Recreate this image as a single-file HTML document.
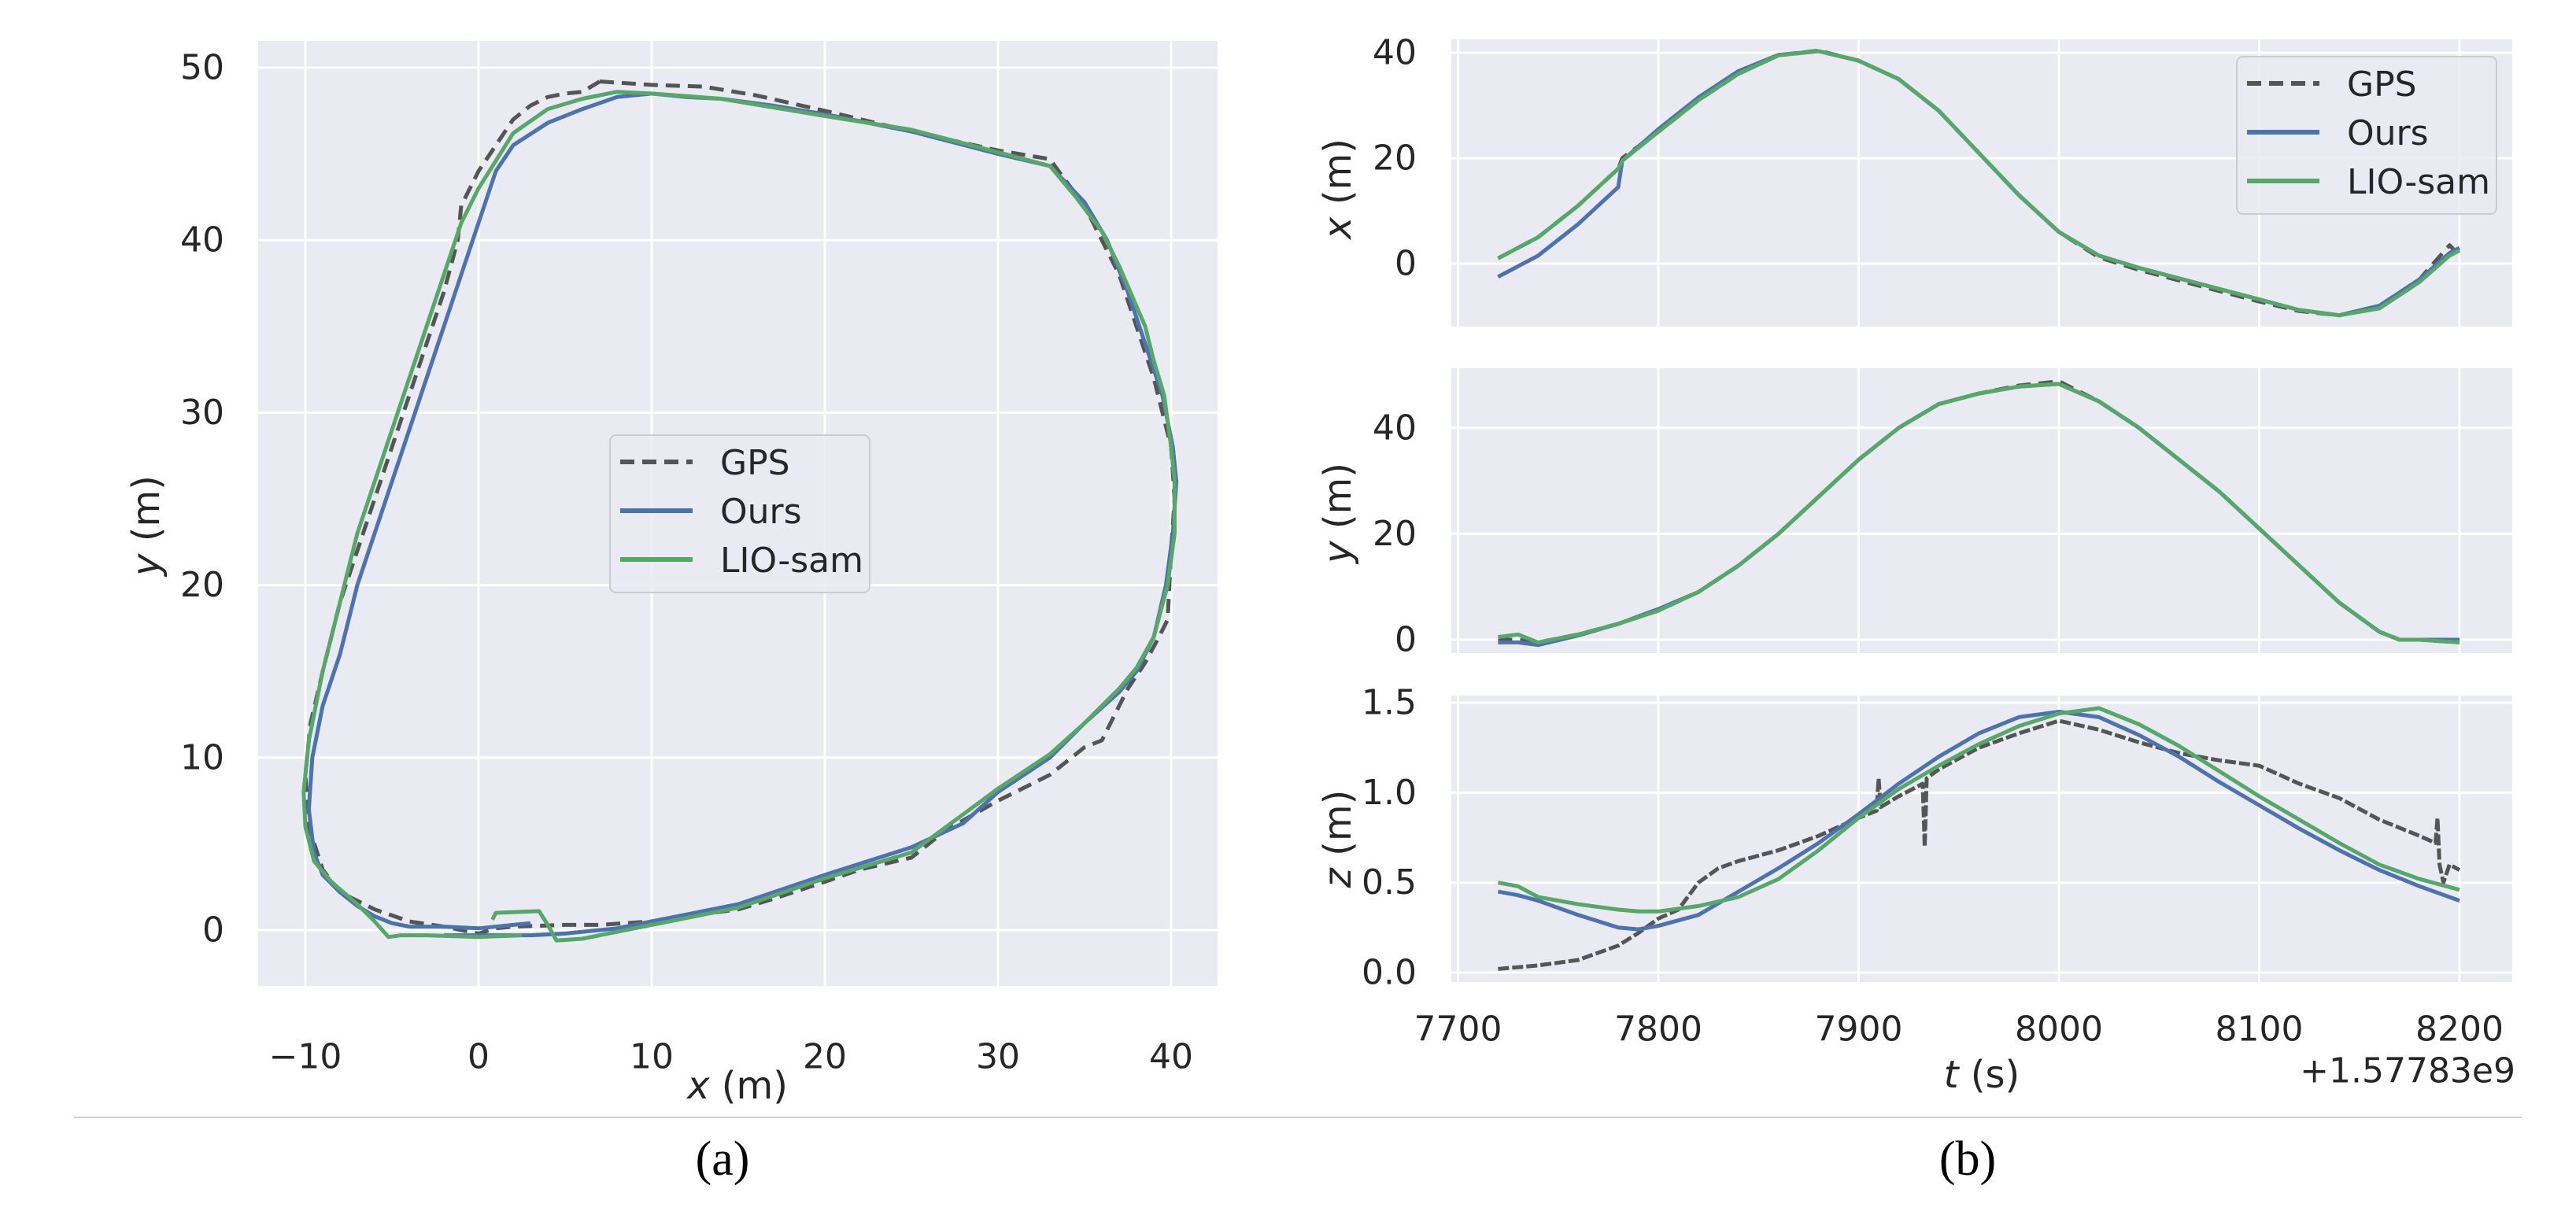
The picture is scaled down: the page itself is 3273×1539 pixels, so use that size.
<!DOCTYPE html>
<html><head><meta charset="utf-8">
<style>
html,body{margin:0;padding:0;background:#fff;}
svg{display:block;}
text{font-family:"DejaVu Sans","Liberation Sans",sans-serif;fill:#262626;}
.cap{font-family:"Liberation Serif",serif;fill:#000;}
</style></head>
<body>
<svg id="fig" width="3273" height="1539" viewBox="0 0 3273 1539" xmlns="http://www.w3.org/2000/svg">
<g id="panelA"></g>
<g id="panelB"></g>
<line x1="94" y1="1420" x2="3204" y2="1420" stroke="#d0d0d0" stroke-width="2"/>
<text class="cap" x="918" y="1493" font-size="62" text-anchor="middle">(a)</text>
<text class="cap" x="2500" y="1493" font-size="62" text-anchor="middle">(b)</text>
</svg>
<script>
// ---------- Panel (a) data: trajectory x/y (m) ----------
const gpsX = [7,10,13,16,20,25,30,33,33.5,35,36,37,38,39,39.5,40,40.2,40,39.8,39.3,38.5,37.5,36,35,33,30,27,25,22,20,17,15,12,10,7,5,2,1,0,-2,-4,-6,-8,-9,-9.8,-10,-9.7,-9,-8,-7,-6,-5,-4,-3,-2,-1.2,-1,0,1,2,3,4,5,6,7];
const gpsY = [49.2,49,48.9,48.4,47.5,46.3,45.2,44.7,44,42,40,38,35,32,30,28,25,22,18,17,15.5,14,11,10.6,9,7.5,5.8,4.2,3.5,2.8,1.8,1.2,0.8,0.5,0.3,0.3,0.2,0.1,-0.2,0.2,0.5,1.2,2.2,3.5,6,9,12,15,19,22,25,28,31,34,37,40,42,44,45.5,47,47.8,48.3,48.5,48.6,49.2];
const oursX = [-2,0,3,5,8,10,15,20,25,28,30,33,35,37,38,39,39.7,40.1,40.3,40.1,39.5,38.5,37.5,36.3,35,33,30,25,20,17,14,12,10,8,6,4,2,1,0,-1,-2,-3,-4,-5,-6,-7,-8,-9,-9.6,-9.8,-9.5,-9,-8,-7,-6,-5,-4,-2,0,2,3];
const oursY = [-0.3,-0.3,-0.3,-0.2,0.1,0.5,1.5,3.2,4.8,6.2,8,10,12,13.8,15,17,20,23,26,28,31,34,37,40,42.2,44.3,45,46.3,47.3,47.8,48.2,48.3,48.5,48.3,47.6,46.8,45.5,44,41,38,35,32,29,26,23,20,16,13,10,7,4.5,3.2,2.2,1.4,0.8,0.4,0.2,0.2,0.1,0.3,0.4];
const lioX = [0.8,1,3.5,4,4.5,6,10,15,20,25,30,33,35,37,38,39,39.8,40.2,40.2,40,39.6,39,38.5,37,36,34.5,33,30,25,20,14,10,8,6,4,2,0,-1,-2,-3,-4,-5,-6,-7,-8,-9,-9.8,-10.1,-10,-9.5,-8.5,-7,-6,-5.2,-4.5,-3,0,2.5];
const lioY = [0.6,1,1.1,0.3,-0.6,-0.5,0.3,1.3,3,4.5,8.2,10.2,12,14,15.2,17,20,23,26,28,31,33,35,38.5,40.5,42.5,44.3,45.1,46.4,47.2,48.2,48.5,48.6,48.2,47.6,46.2,43,41,38,35,32,29,26,23,19,15,11,8,6,4,2.8,1.5,0.5,-0.4,-0.3,-0.3,-0.4,-0.3];
const aXTicks = [-10,0,10,20,30,40];
const aXTickLabels = ["\u221210","0","10","20","30","40"];
const aYTicks = [0,10,20,30,40,50];
const aYTickLabels = ["0","10","20","30","40","50"];

// ---------- Panel (b) data ----------
const tTicks = [7700,7800,7900,8000,8100,8200];
const tTickLabels = ["7700","7800","7900","8000","8100","8200"];
const xPlotTicks = [0,20,40];
const yPlotTicks = [0,20,40];
const zPlotTicks = [0,0.5,1.0,1.5];
const zPlotTickLabels = ["0.0","0.5","1.0","1.5"];

const tX = [7720,7740,7760,7780,7782,7800,7820,7840,7860,7880,7900,7920,7940,7960,7980,8000,8020,8040,8060,8080,8100,8120,8140,8160,8180,8195,8200];
const xGps = [1,5,11,18,20,25,31,36,39.5,40.4,38.5,35,29,21,13,6,1.2,-1.2,-3.2,-5.2,-7.2,-9,-9.8,-8,-3,3.5,1.5];
const xOurs = [-2.5,1.5,7.5,14.5,19.5,25.5,31.5,36.5,39.6,40.3,38.5,35,29,21,13,6,1.5,-0.8,-2.8,-4.8,-6.8,-8.8,-9.8,-8,-3,2,3];
const xLio = [1,5,11,18,19.5,25,31,36,39.5,40.3,38.5,35,29,21,13,6,1.5,-0.8,-2.8,-4.8,-6.8,-8.8,-9.8,-8.5,-3.5,1.5,2.5];

const tY = [7720,7730,7740,7760,7780,7800,7820,7840,7860,7880,7900,7920,7940,7960,7980,8000,8020,8040,8060,8080,8100,8120,8140,8160,8170,8180,8200];
const yGps = [0,0,-0.5,1,3,5.5,9,14,20,27,34,40,44.5,46.5,48,48.8,45,40,34,28,21,14,7,1.5,0,0,-0.5];
const yOurs = [-0.5,-0.5,-1,0.8,3,5.8,9,14,20,27,34,40,44.5,46.5,47.8,48.3,45,40,34,28,21,14,7,1.5,0,0,0];
const yLio = [0.5,1,-0.5,1,3,5.5,9,14,20,27,34,40,44.5,46.5,47.8,48.3,45,40,34,28,21,14,7,1.5,0,0,-0.5];

const tZ = [7720,7730,7740,7760,7780,7790,7800,7820,7840,7860,7880,7900,7920,7940,7960,7980,8000,8020,8040,8060,8080,8100,8120,8140,8160,8180,8200];
const zOurs = [0.45,0.43,0.4,0.32,0.25,0.24,0.26,0.32,0.45,0.58,0.72,0.88,1.05,1.2,1.33,1.42,1.45,1.42,1.32,1.2,1.06,0.93,0.8,0.68,0.57,0.48,0.4];
const zLio = [0.5,0.48,0.42,0.38,0.35,0.34,0.34,0.37,0.42,0.52,0.68,0.86,1.02,1.15,1.27,1.37,1.44,1.47,1.38,1.26,1.12,0.98,0.85,0.72,0.6,0.52,0.46];
const tZGps = [7720,7740,7760,7780,7790,7800,7810,7820,7830,7840,7860,7880,7900,7909,7910,7911,7920,7932,7933,7934,7940,7960,7980,8000,8020,8040,8060,8080,8100,8120,8140,8160,8180,8188,8189,8190,8192,8195,8200];
const zGps = [0.02,0.04,0.07,0.15,0.22,0.3,0.35,0.5,0.58,0.62,0.68,0.76,0.86,0.9,1.08,0.92,0.98,1.05,0.7,1.08,1.13,1.25,1.33,1.4,1.35,1.28,1.22,1.18,1.15,1.05,0.97,0.85,0.76,0.72,0.86,0.6,0.5,0.6,0.57];

const NS = "http://www.w3.org/2000/svg";
function mk(parent, tag, attrs, txt){
  const e = document.createElementNS(NS, tag);
  for (const k in attrs) e.setAttribute(k, attrs[k]);
  if (txt !== undefined) e.textContent = txt;
  parent.appendChild(e);
  return e;
}
const BLUE = "#4c72b0", GREEN = "#55a868", GRAY = "#555555", BG = "#eaeaf2";

function legend(g, x, y){
  const lg = mk(g, "g", {});
  
  
  mk(lg, "rect", {x:x, y:y, width:330, height:200, rx:8, fill:BG, "fill-opacity":0.85, stroke:"#cccccc", "stroke-width":2});
  const items = [["GPS",GRAY,"18,10"],["Ours",BLUE,""],["LIO-sam",GREEN,""]];
  items.forEach((it, i) => {
    const cy = y + 34 + i*62;
    const ent = mk(lg, "g", {});
    
    
    const ln = mk(ent, "line", {x1:x+13, y1:cy, x2:x+105, y2:cy, stroke:it[1], "stroke-width":6});
    if (it[2]) ln.setAttribute("stroke-dasharray", it[2]);
    mk(ent, "text", {x:x+140, y:cy+16, "font-size":44}, it[0]);
  });
}

function drawLine(g, xs, ys, sx, sy, color, dash, w, name){
  let d = "";
  for (let i=0;i<xs.length;i++) d += (i?"L":"M") + sx(xs[i]).toFixed(1) + "," + sy(ys[i]).toFixed(1);
  const p = mk(g, "path", {d:d, fill:"none", stroke:color, "stroke-width":w, "stroke-linejoin":"round", "stroke-linecap":"butt"});
  if (dash) p.setAttribute("stroke-dasharray", dash);
  
  
}

// ---------- Panel (a) ----------
(function(){
  const g = document.getElementById("panelA");
  const L=328, R=1547, T=52, B=1253;
  const sx = v => 608 + v*22.0;
  const sy = v => 1182 - v*21.92;
  const bg = mk(g, "rect", {x:L, y:T, width:R-L, height:B-T, fill:BG});
  
  
  aXTicks.forEach((v,i) => {
    mk(g, "line", {x1:sx(v), y1:T, x2:sx(v), y2:B, stroke:"#fff", "stroke-width":3});
    const t = mk(g, "text", {x:sx(v), y:1343, "font-size":44, "text-anchor":"middle", "dominant-baseline":"central"}, aXTickLabels[i]);
    
    
  });
  aYTicks.forEach((v,i) => {
    mk(g, "line", {x1:L, y1:sy(v), x2:R, y2:sy(v), stroke:"#fff", "stroke-width":3});
    const t = mk(g, "text", {x:285, y:sy(v), "font-size":44, "text-anchor":"end", "dominant-baseline":"central"}, aYTickLabels[i]);
    
    
  });
  const c = mk(g, "g", {});
  drawLine(c, gpsX, gpsY, sx, sy, GRAY, "18,10", 5, "gps-trajectory");
  drawLine(c, oursX, oursY, sx, sy, BLUE, "", 5, "ours-trajectory");
  drawLine(c, lioX, lioY, sx, sy, GREEN, "", 5, "lio-sam-trajectory");
  const xl = mk(g, "text", {x:937, y:1380, "font-size":48, "text-anchor":"middle", "dominant-baseline":"central"});
  xl.innerHTML = '<tspan font-style="italic">x</tspan> (m)';
  
  
  const yl = mk(g, "text", {x:0, y:0, "font-size":48, "text-anchor":"middle", "dominant-baseline":"central", transform:"translate(186,668) rotate(-90)"});
  yl.innerHTML = '<tspan font-style="italic">y</tspan> (m)';
  
  
  legend(g, 775, 553);
})();

// ---------- Panel (b) ----------
(function(){
  const g = document.getElementById("panelB");
  const L=1844, R=3192;
  const sx = t => 2107 + (t-7800)*2.545;
  const panels = [
    {T:50, B:415, y0:335, k:6.7, ticks:xPlotTicks, labels:xPlotTicks.map(String), lab:"x", ly:240, name:"x-subplot",
     series:[[tX,xGps,GRAY,"18,10"],[tX,xOurs,BLUE,""],[tX,xLio,GREEN,""]]},
    {T:468, B:830, y0:813, k:6.73, ticks:yPlotTicks, labels:yPlotTicks.map(String), lab:"y", ly:652, name:"y-subplot",
     series:[[tY,yGps,GRAY,"18,10"],[tY,yOurs,BLUE,""],[tY,yLio,GREEN,""]]},
    {T:884, B:1248, y0:1236, k:228.6, ticks:zPlotTicks, labels:zPlotTickLabels, lab:"z", ly:1066, name:"z-subplot",
     series:[[tZGps,zGps,GRAY,"14,4"],[tZ,zOurs,BLUE,""],[tZ,zLio,GREEN,""]]}
  ];
  panels.forEach((p, pi) => {
    const pg = mk(g, "g", {});
    
    
    const sy = v => p.y0 - v*p.k;
    mk(pg, "rect", {x:L, y:p.T, width:R-L, height:p.B-p.T, fill:BG});
    tTicks.forEach(t => mk(pg, "line", {x1:sx(t), y1:p.T, x2:sx(t), y2:p.B, stroke:"#fff", "stroke-width":3}));
    p.ticks.forEach((v,i) => {
      mk(pg, "line", {x1:L, y1:sy(v), x2:R, y2:sy(v), stroke:"#fff", "stroke-width":3});
      const t = mk(pg, "text", {x:1800, y:sy(v), "font-size":44, "text-anchor":"end", "dominant-baseline":"central"}, p.labels[i]);
      
      
    });
    const names = ["gps-line","ours-line","lio-sam-line"];
    p.series.forEach((s, si) => drawLine(pg, s[0], s[1], sx, sy, s[2], s[3], 5, names[si]));
    const yl = mk(pg, "text", {x:0, y:0, "font-size":48, "text-anchor":"middle", "dominant-baseline":"central", transform:"translate(1700,"+p.ly+") rotate(-90)"});
    yl.innerHTML = '<tspan font-style="italic">'+p.lab+'</tspan> (m)';
    
    
  });
  tTicks.forEach((t,i) => {
    const tl = mk(g, "text", {x:sx(t), y:1308, "font-size":44, "text-anchor":"middle", "dominant-baseline":"central"}, tTickLabels[i]);
    
    
  });
  const tt = mk(g, "text", {x:2518, y:1366, "font-size":48, "text-anchor":"middle", "dominant-baseline":"central"});
  tt.innerHTML = '<tspan font-style="italic">t</tspan> (s)';
  
  
  const off = mk(g, "text", {x:3196, y:1361, "font-size":44, "text-anchor":"end", "dominant-baseline":"central"}, "+1.57783e9");
  
  
  legend(g, 2842, 72);
})();
</script>
</body></html>
